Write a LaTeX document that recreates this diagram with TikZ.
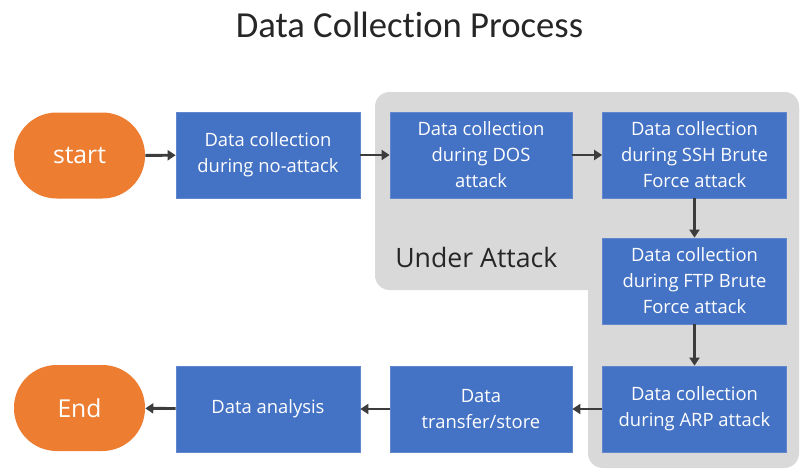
\documentclass[tikz,border=0pt]{standalone}
\usepackage{fontspec}
\setmainfont{Open Sans}
\newfontfamily\titlefont[Ligatures=NoCommon]{Carlito}
\usetikzlibrary{arrows.meta}
\definecolor{boxblue}{HTML}{4472C4}
\definecolor{termorange}{HTML}{ED7D31}
\definecolor{regiongray}{HTML}{D9D9D9}
\definecolor{arrowgray}{HTML}{3C3C3C}
\begin{document}
\begin{tikzpicture}[x=0.75pt,y=-0.75pt,
  stepbox/.style={rectangle, fill=boxblue, draw=boxblue!85!white, line width=0.5pt, text=white, inner sep=0pt,
    minimum width=138pt, minimum height=64.5pt, align=center, font=\fontsize{13.8}{19.5}\selectfont},
  termbox/.style={rectangle, rounded corners=32pt, fill=termorange, text=white, inner sep=0pt,
    minimum width=98.25pt, minimum height=64.5pt, font=\fontsize{18.5}{20}\selectfont},
  flow/.style={arrowgray, line width=2.2pt, -{Triangle[length=6pt,width=7.5pt]}},
  region/.style={fill=regiongray, rounded corners=11pt}
]
\useasboundingbox (0,0) rectangle (800,468);
\fill[region] (375,92) rectangle (799,290);
\fill[region] (588,92) rectangle (799,468);

\node[anchor=base, font=\titlefont\fontsize{27.5}{30}\selectfont, text=black!85] (title) at (409.5,37) {Data Collection Process};
\node[anchor=base west, font=\fontsize{20}{22}\selectfont, text=black!85, inner sep=0pt] (under) at (395,267) {Under Attack};

\node[termbox] (start) at (79.5,155.5) {start};
\node[stepbox] (noatk) at (268,155) {Data collection\\during no-attack};
\node[stepbox, minimum width=136.5pt] (dos) at (481,155) {Data collection\\during DOS\\attack};
\node[stepbox] (ssh) at (694.5,155) {Data collection\\during SSH Brute\\Force attack};
\node[stepbox] (ftp) at (694.5,281) {Data collection\\during FTP Brute\\Force attack};
\node[stepbox] (arp) at (694.5,409) {Data collection\\during ARP attack};
\node[stepbox, minimum width=136.5pt] (store) at (481,409) {Data\\transfer/store};
\node[stepbox] (anal) at (268,409) {Data analysis};
\node[termbox] (end) at (79.5,408) {End};

\draw[flow] (start) -- (noatk);
\draw[flow] (noatk) -- (dos);
\draw[flow] (dos) -- (ssh);
\draw[flow] (ssh) -- (ftp);
\draw[flow] (ftp) -- (arp);
\draw[flow] (arp) -- (store);
\draw[flow] (store) -- (anal);
\draw[flow] (anal) -- (end);
\end{tikzpicture}
\end{document}
